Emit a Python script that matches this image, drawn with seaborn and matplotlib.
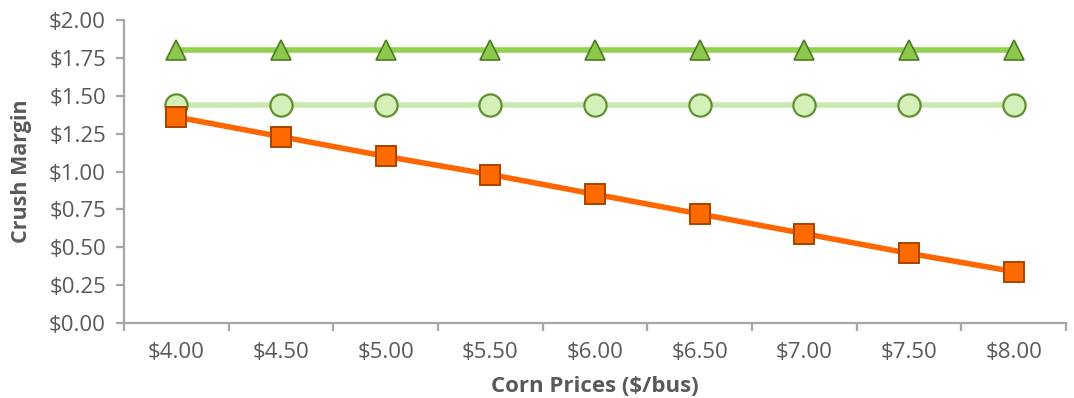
import matplotlib
matplotlib.use("Agg")
import matplotlib.pyplot as plt
import seaborn as sns
import pandas as pd
from matplotlib.ticker import FixedLocator

corn_prices = ["$4.00", "$4.50", "$5.00", "$5.50", "$6.00", "$6.50", "$7.00", "$7.50", "$8.00"]
series_triangle = [1.80, 1.80, 1.80, 1.80, 1.80, 1.80, 1.80, 1.80, 1.80]
series_circle = [1.44, 1.44, 1.44, 1.44, 1.44, 1.44, 1.44, 1.44, 1.44]
series_square = [1.36, 1.23, 1.10, 0.98, 0.85, 0.72, 0.59, 0.46, 0.34]
y_ticks = [0.0, 0.25, 0.5, 0.75, 1.0, 1.25, 1.5, 1.75, 2.0]

sns.set_theme(style="white")
plt.rcParams['font.family'] = ['Open Sans', 'DejaVu Sans']

fig = plt.figure(figsize=(10.74, 3.98), dpi=100)
ax = fig.add_axes([0.1155, 0.1884, 0.8771, 0.7613])

x = list(range(len(corn_prices)))
df = pd.DataFrame({"x": x, "tri": series_triangle, "cir": series_circle, "sq": series_square})

sns.lineplot(data=df, x="x", y="tri", ax=ax, color="#92D050", linewidth=4,
             marker="^", markersize=15, markerfacecolor="#8CC84B",
             markeredgecolor="#4E7A22", markeredgewidth=1.2, zorder=3)
sns.lineplot(data=df, x="x", y="cir", ax=ax, color="#C8E8B0", linewidth=4,
             marker="o", markersize=16, markerfacecolor="#D4F0B8",
             markeredgecolor="#5E9030", markeredgewidth=1.6, zorder=3)
sns.lineplot(data=df, x="x", y="sq", ax=ax, color="#FF6600", linewidth=4,
             marker="s", markersize=15, markerfacecolor="#FF6A00",
             markeredgecolor="#A84400", markeredgewidth=1.4, zorder=4)

ax.set_xlim(-0.5, len(corn_prices) - 0.5)
ax.set_ylim(0, 2.0)
ax.set_xticks(x)
ax.set_xticklabels(corn_prices)
ax.xaxis.set_minor_locator(FixedLocator([i - 0.5 for i in range(len(corn_prices) + 1)]))
ax.set_yticks(y_ticks)
ax.set_yticklabels([f"${v:.2f}" for v in y_ticks])

grey = "#A6A6A6"
text_grey = "#595959"
for side in ["top", "right"]:
    ax.spines[side].set_visible(False)
for side in ["left", "bottom"]:
    ax.spines[side].set_color(grey)
    ax.spines[side].set_linewidth(1.6)

ax.tick_params(axis="x", which="major", length=0, pad=14, labelsize=16, labelcolor=text_grey)
ax.tick_params(axis="x", which="minor", length=6, width=1.6, color=grey, direction="out", bottom=True)
ax.tick_params(axis="y", which="major", length=6, width=1.6, color=grey, direction="out",
               left=True, pad=7, labelsize=16, labelcolor=text_grey)

ax.set_xlabel("Corn Prices ($/bus)", fontsize=16, fontweight="bold", color=text_grey, labelpad=9)
ax.set_ylabel("Crush Margin", fontsize=15.5, fontweight="bold", color=text_grey, labelpad=12)
ax.grid(False)

fig.savefig("out.png", dpi=100)
